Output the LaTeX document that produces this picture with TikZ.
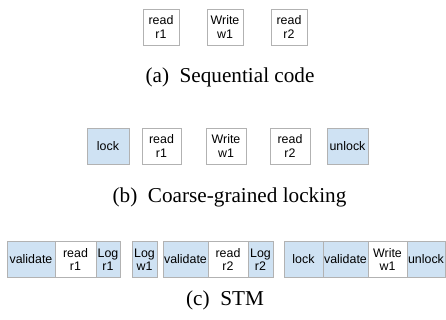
\documentclass[tikz,border=0pt]{standalone}
\usepackage{fontspec}
\setmainfont{Liberation Serif}
\newfontfamily\boxfont{Liberation Sans}
\definecolor{cellblue}{RGB}{207,226,243}
\definecolor{cellline}{RGB}{178,178,178}
\begin{document}
\begin{tikzpicture}[x=1pt,y=-1pt,
  cell/.style={draw=cellline, line width=0.9pt, fill=white, inner sep=0pt,
    minimum height=36pt, align=center,
    font=\boxfont\fontsize{12.4}{13.4}\selectfont},
  bluecell/.style={cell, fill=cellblue},
  caption/.style={font=\fontsize{21.2}{25}\selectfont, inner sep=0pt}]
\useasboundingbox (0,0) rectangle (446,320);

% (a) sequential code
\node[cell, minimum width=36pt] (a1) at (161,27) {read\\r1};
\node[cell, minimum width=36pt] (a2) at (225,27) {Write\\w1};
\node[cell, minimum width=36pt] (a3) at (289,27) {read\\r2};
\node[caption] (capa) at (230,77) {(a)\ \ Sequential code};

% (b) coarse-grained locking
\node[bluecell, minimum width=42pt] (b0) at (108,146) {lock};
\node[cell, minimum width=39pt] (b1) at (161.5,146) {read\\r1};
\node[cell, minimum width=40pt] (b2) at (226,146) {Write\\w1};
\node[cell, minimum width=40pt] (b3) at (290,146) {read\\r2};
\node[bluecell, minimum width=41pt] (b4) at (347.5,146) {unlock};
\node[caption] (capb) at (229.5,197) {(b)\ \ Coarse-grained locking};

% (c) STM
\node[bluecell, minimum width=48pt] (c1) at (31,259.5) {validate};
\node[cell, minimum width=41pt] (c2) at (75.5,259.5) {read\\r1};
\node[bluecell, minimum width=24pt] (c3) at (108,259.5) {Log\\r1};
\node[bluecell, minimum width=25pt] (c4) at (144.5,259.5) {Log\\w1};
\node[bluecell, minimum width=45pt] (c5) at (185.5,259.5) {validate};
\node[cell, minimum width=40pt] (c6) at (228,259.5) {read\\r2};
\node[bluecell, minimum width=25pt] (c7) at (260.5,259.5) {Log\\r2};
\node[bluecell, minimum width=39pt] (c8) at (303.5,259.5) {lock};
\node[bluecell, minimum width=45pt] (c9) at (345.5,259.5) {validate};
\node[cell, minimum width=39pt] (c10) at (387.5,259.5) {Write\\w1};
\node[bluecell, minimum width=38pt] (c11) at (426,259.5) {unlock};
\node[caption] (capc) at (225,300) {(c)\ \ STM};
\end{tikzpicture}
\end{document}
